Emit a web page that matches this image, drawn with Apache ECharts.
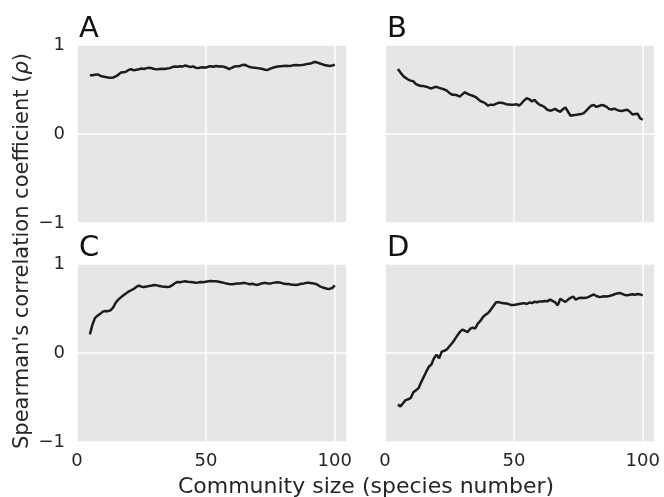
<!DOCTYPE html>
<html>
<head>
<meta charset="utf-8">
<script src="https://cdn.jsdelivr.net/npm/echarts@6/dist/echarts.min.js"></script>
<style>
  html, body { margin: 0; padding: 0; background: #fff; }
  #chart { width: 664px; height: 497px; }
</style>
</head>
<body>
<div id="chart"></div>
<script>
// community size (species number), shared by all panels
var communitySize = [
  5, 6, 7, 8, 9, 10, 11, 12, 13, 14, 15, 16, 17, 18, 19, 20, 21, 22, 23, 24,
  25, 26, 27, 28, 29, 30, 31, 32, 33, 34, 35, 36, 37, 38, 39, 40, 41, 42, 43, 44,
  45, 46, 47, 48, 49, 50, 51, 52, 53, 54, 55, 56, 57, 58, 59, 60, 61, 62, 63, 64,
  65, 66, 67, 68, 69, 70, 71, 72, 73, 74, 75, 76, 77, 78, 79, 80, 81, 82, 83, 84,
  85, 86, 87, 88, 89, 90, 91, 92, 93, 94, 95, 96, 97, 98, 99, 100
];

var rhoA = [
  0.66, 0.66, 0.665, 0.67, 0.655, 0.645, 0.64, 0.635, 0.632, 0.635, 0.648, 0.665, 0.69, 0.695, 0.70, 0.72, 0.728, 0.715, 0.722, 0.728,
  0.735, 0.73, 0.74, 0.745, 0.738, 0.73, 0.726, 0.73, 0.733, 0.73, 0.735, 0.74, 0.752, 0.758, 0.755, 0.762, 0.758, 0.77, 0.762, 0.752,
  0.76, 0.745, 0.74, 0.748, 0.75, 0.745, 0.758, 0.762, 0.755, 0.765, 0.758, 0.76, 0.755, 0.745, 0.73, 0.742, 0.758, 0.76, 0.762, 0.775,
  0.778, 0.765, 0.752, 0.748, 0.745, 0.74, 0.735, 0.73, 0.722, 0.72, 0.735, 0.745, 0.752, 0.758, 0.762, 0.765, 0.768, 0.765, 0.768, 0.772,
  0.775, 0.773, 0.775, 0.778, 0.785, 0.79, 0.795, 0.81, 0.805, 0.795, 0.785, 0.775, 0.77, 0.765, 0.77, 0.78
];

var rhoB = [
  0.73, 0.69, 0.655, 0.63, 0.612, 0.60, 0.592, 0.56, 0.548, 0.54, 0.538, 0.532, 0.52, 0.512, 0.525, 0.53, 0.518, 0.51, 0.50, 0.488,
  0.46, 0.442, 0.44, 0.435, 0.42, 0.445, 0.468, 0.452, 0.44, 0.43, 0.418, 0.395, 0.37, 0.36, 0.342, 0.318, 0.33, 0.325, 0.338, 0.35,
  0.352, 0.345, 0.335, 0.332, 0.328, 0.33, 0.335, 0.318, 0.345, 0.378, 0.402, 0.39, 0.365, 0.385, 0.35, 0.328, 0.318, 0.30, 0.272, 0.262,
  0.27, 0.282, 0.262, 0.25, 0.278, 0.298, 0.25, 0.205, 0.21, 0.215, 0.22, 0.225, 0.232, 0.26, 0.29, 0.318, 0.325, 0.305, 0.315, 0.325,
  0.32, 0.305, 0.28, 0.275, 0.285, 0.272, 0.26, 0.258, 0.268, 0.272, 0.25, 0.22, 0.225, 0.228, 0.175, 0.16
];

var rhoC = [
  0.21, 0.32, 0.395, 0.42, 0.44, 0.465, 0.472, 0.47, 0.48, 0.51, 0.565, 0.60, 0.625, 0.648, 0.668, 0.69, 0.705, 0.72, 0.742, 0.758,
  0.745, 0.742, 0.748, 0.752, 0.758, 0.765, 0.76, 0.752, 0.748, 0.745, 0.742, 0.745, 0.762, 0.785, 0.798, 0.795, 0.802, 0.805, 0.80, 0.798,
  0.795, 0.79, 0.792, 0.798, 0.795, 0.80, 0.805, 0.808, 0.805, 0.805, 0.80, 0.795, 0.788, 0.78, 0.775, 0.772, 0.776, 0.78, 0.782, 0.785,
  0.788, 0.78, 0.772, 0.778, 0.77, 0.765, 0.775, 0.785, 0.788, 0.782, 0.78, 0.788, 0.792, 0.795, 0.79, 0.78, 0.776, 0.775, 0.77, 0.768,
  0.765, 0.77, 0.778, 0.782, 0.788, 0.788, 0.785, 0.78, 0.772, 0.752, 0.74, 0.73, 0.722, 0.72, 0.73, 0.76
];

var rhoD = [
  -0.58, -0.60, -0.565, -0.53, -0.52, -0.505, -0.44, -0.42, -0.395, -0.33, -0.27, -0.21, -0.155, -0.13, -0.06, -0.02, -0.06, 0.015, 0.025, 0.04,
  0.075, 0.11, 0.15, 0.195, 0.235, 0.262, 0.25, 0.235, 0.27, 0.285, 0.275, 0.33, 0.36, 0.405, 0.43, 0.45, 0.485, 0.525, 0.568, 0.572,
  0.565, 0.56, 0.555, 0.55, 0.538, 0.54, 0.545, 0.55, 0.555, 0.56, 0.55, 0.568, 0.56, 0.575, 0.57, 0.58, 0.578, 0.585, 0.58, 0.60,
  0.585, 0.57, 0.535, 0.61, 0.59, 0.575, 0.60, 0.62, 0.635, 0.60, 0.615, 0.62, 0.618, 0.62, 0.63, 0.645, 0.658, 0.64, 0.63, 0.632,
  0.638, 0.635, 0.64, 0.648, 0.66, 0.668, 0.675, 0.665, 0.652, 0.65, 0.655, 0.66, 0.655, 0.662, 0.658, 0.648
];

var panelLabels = ['A', 'B', 'C', 'D'];
var yTicks = [-1, 0, 1];
var xTicks = [0, 50, 100];

var chart = echarts.init(document.getElementById('chart'), null, { renderer: 'canvas' });

var textColor = '#262626';
var font = 'DejaVu Sans';

var grids = [
  { left: 77, top: 45, width: 270, height: 178 },
  { left: 385, top: 45, width: 270, height: 178 },
  { left: 77, top: 264, width: 270, height: 178 },
  { left: 385, top: 264, width: 270, height: 178 }
];

function pairs(ys) {
  return communitySize.map(function (x, i) { return [x, ys[i]]; });
}

var allRho = [rhoA, rhoB, rhoC, rhoD];

var option = {
  animation: false,
  textStyle: { fontFamily: font },
  grid: grids.map(function (g) {
    return {
      left: g.left, top: g.top, width: g.width, height: g.height,
      show: true,
      backgroundColor: '#e5e6e6',
      borderWidth: 0
    };
  }),
  xAxis: grids.map(function (g, i) {
    return {
      type: 'value',
      gridIndex: i,
      min: 0,
      max: 104.75,
      interval: 50,
      axisLine: { show: false },
      axisTick: { show: false },
      axisLabel: {
        show: i >= 2,
        color: textColor,
        fontSize: 18,
        fontFamily: font,
        margin: 10,
        showMaxLabel: false,
        formatter: function (v) { return xTicks.indexOf(v) >= 0 ? String(v) : ''; }
      },
      splitLine: { show: true, lineStyle: { color: '#ffffff', width: 1.5 } }
    };
  }),
  yAxis: grids.map(function (g, i) {
    return {
      type: 'value',
      gridIndex: i,
      min: -1,
      max: 1,
      interval: 1,
      axisLine: { show: false },
      axisTick: { show: false },
      axisLabel: {
        show: i % 2 === 0,
        color: textColor,
        fontSize: 18,
        fontFamily: font,
        margin: 12,
        formatter: function (v) {
          if (yTicks.indexOf(v) < 0) return '';
          return v < 0 ? '\u2212' + Math.abs(v) : String(v);
        }
      },
      splitLine: { show: true, lineStyle: { color: '#ffffff', width: 1.5 } }
    };
  }),
  series: allRho.map(function (ys, i) {
    return {
      type: 'line',
      xAxisIndex: i,
      yAxisIndex: i,
      data: pairs(ys),
      showSymbol: false,
      symbol: 'none',
      lineStyle: { color: '#1c1c1c', width: 2.5 }
    };
  }),
  graphic: panelLabels.map(function (t, i) {
    return {
      type: 'text',
      left: grids[i].left + 2,
      top: grids[i].top - 30,
      style: { text: t, fontSize: 29, fontFamily: font, fill: '#111' }
    };
  }).concat([
    {
      type: 'text',
      x: 366,
      y: 476,
      style: {
        text: 'Community size (species number)',
        align: 'center',
        verticalAlign: 'top',
        fontSize: 22, fontFamily: font, fill: textColor
      }
    },
    {
      type: 'text',
      x: 12,
      y: 251,
      rotation: Math.PI / 2,
      style: {
        text: '{a|Spearman\'s correlation coefficient (}{b|\u03c1}{a|)}',
        align: 'center',
        verticalAlign: 'top',
        rich: {
          a: { fontSize: 21, fontFamily: font, fill: textColor, color: textColor },
          b: { fontSize: 21, fontFamily: font, fontStyle: 'italic', fill: textColor, color: textColor }
        },
        fill: textColor
      }
    }
  ])
};

chart.setOption(option);
</script>
</body>
</html>
